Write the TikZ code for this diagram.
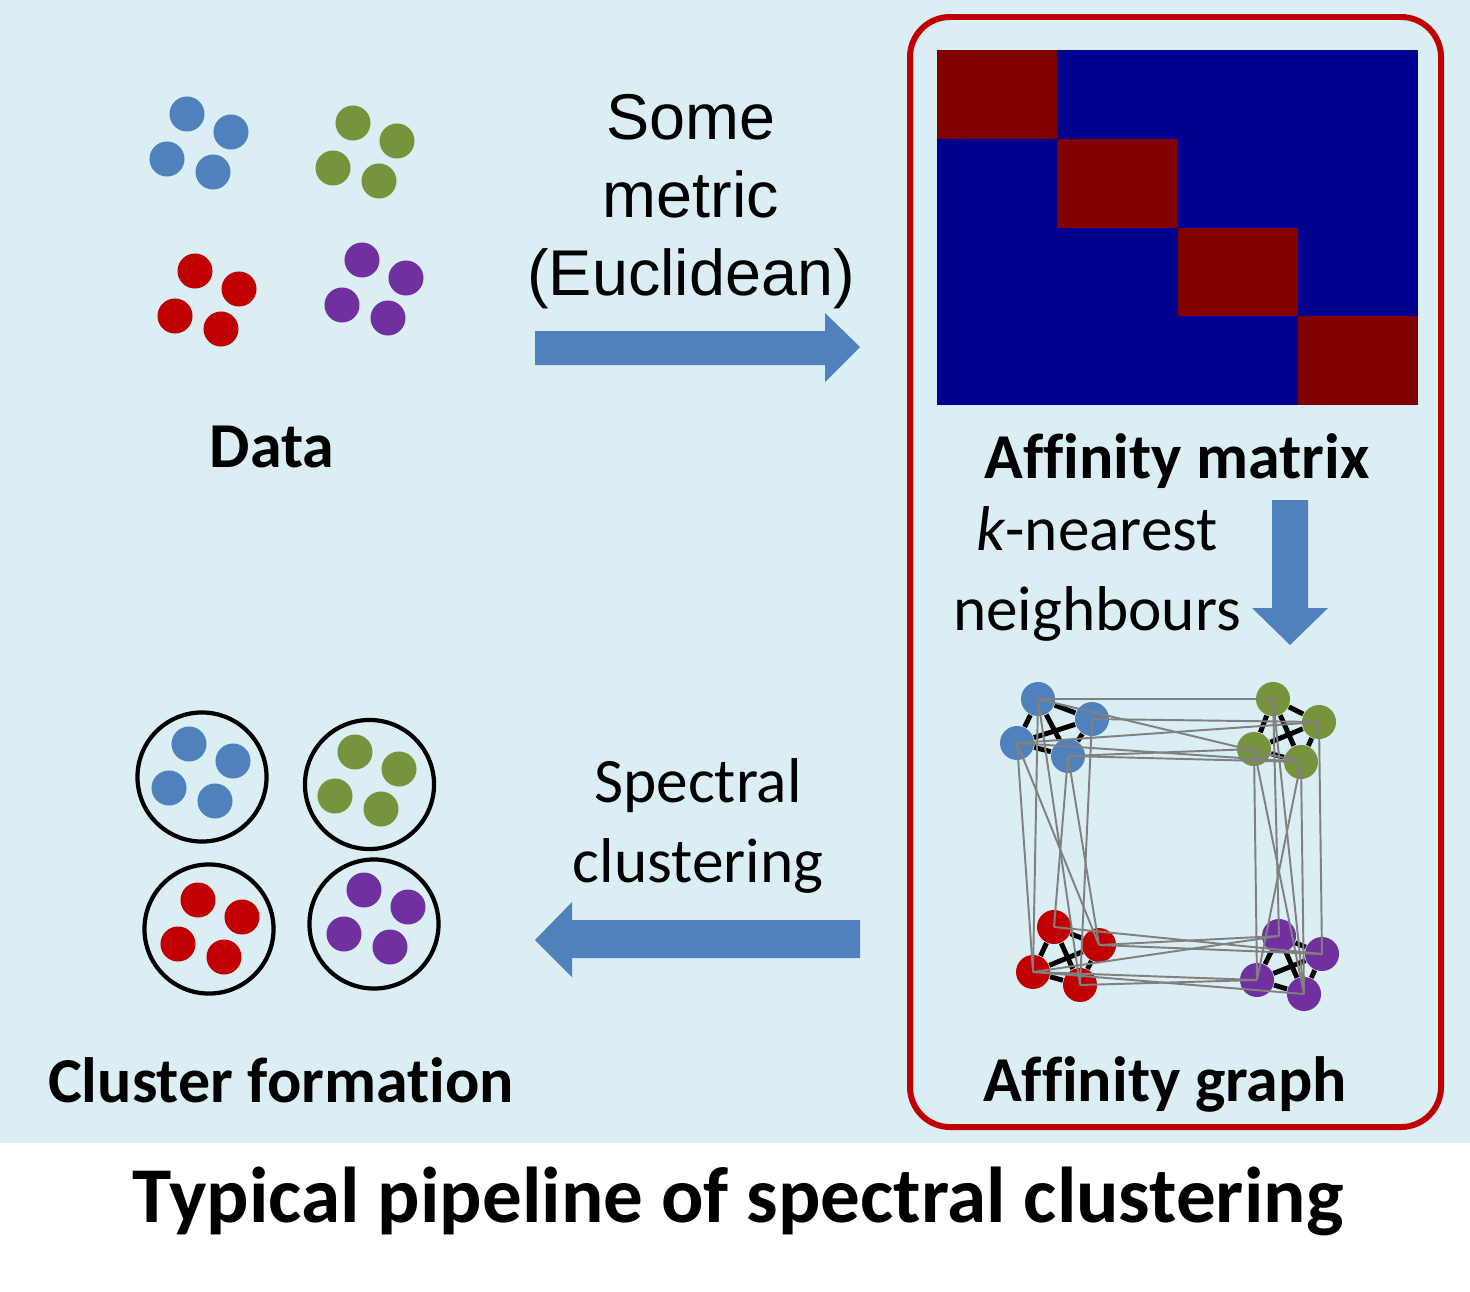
\documentclass[tikz,border=0pt]{standalone}
\usepackage{fontspec}
\setmainfont{Carlito}[Ligatures=NoCommon]
\newfontfamily\arialfont{Liberation Sans}
\usetikzlibrary{positioning}
\usetikzlibrary{backgrounds}
\definecolor{bgblue}{HTML}{DAEEF3}
\definecolor{dotblue}{HTML}{4F81BD}
\definecolor{dotgreen}{HTML}{77933C}
\definecolor{dotred}{HTML}{C00000}
\definecolor{dotpurple}{HTML}{7030A0}
\definecolor{arrowblue}{HTML}{4F81BD}
\definecolor{framered}{HTML}{C00000}
\definecolor{matred}{HTML}{800000}
\definecolor{matblue}{HTML}{000090}
\pgfdeclarelayer{edgelayer}
\pgfsetlayers{background,edgelayer,main}
\tikzset{dot/.style={circle,inner sep=0pt,minimum size=0.35cm},
  gdot/.style={circle,inner sep=0pt,minimum size=0.34cm},
  ring/.style={circle,draw,line width=1.2pt,inner sep=0pt,minimum size=1.29cm},
  strong/.style={line width=1.4pt,black},
  weak/.style={line width=0.55pt,gray},
  blockarrow/.style={fill=arrowblue},
  label/.style={font=\bfseries\fontsize{18.2}{22}\selectfont,anchor=base},
  step text/.style={align=center,font=\fontsize{18}{22.6}\selectfont}}
\begin{document}
\begin{tikzpicture}[x=0.01cm,y=-0.01cm]
\useasboundingbox (0,0) rectangle (1470,1291);
\begin{pgfonlayer}{background}
\fill[bgblue] (0,0) rectangle (1470,1143);
\end{pgfonlayer}
\draw[framered,line width=1.7pt,rounded corners=0.4cm] (910,17) rectangle (1441,1127);

% data
\foreach \c/\cx/\cy [count=\k] in {dotblue/187/114,dotgreen/353/123,dotred/195/271,dotpurple/362/260}
  \foreach \dx/\dy [count=\j] in {0/0,44/18,-20/45,26/58}
    \node (d\k\j) [dot,fill=\c] at (\cx+\dx,\cy+\dy) {};
\node (data) [label] at (272,467) {Data};

% metric arrow
\fill[blockarrow] (535,331) -- (825,331) -- (825,313) -- (860,347) -- (825,382) -- (825,365) -- (535,365) -- cycle;
\node (metric) [align=center,font=\arialfont\fontsize{18.4}{22.2}\selectfont] at (691,202) {Some\\metric\\(Euclidean)};

% affinity matrix
\foreach \i in {0,...,3}
  \foreach \j in {0,...,3}{
    \ifnum\i=\j \def\mc{matred}\else\def\mc{matblue}\fi
    \fill[\mc] (937+120.25*\i,50+88.75*\j) rectangle (937+120.25*\i+120.25,50+88.75*\j+88.75);
  }
\node (amat) [label] at (1177,478) {Affinity matrix};

% knn arrow
\fill[blockarrow] (1272,500) -- (1308,500) -- (1308,608) -- (1328,608) -- (1290,645) -- (1252,608) -- (1272,608) -- cycle;
\node (knn) [step text] at (1097,574) {\textit{k}-nearest\\neighbours};

% affinity graph
\foreach \n/\c/\px/\py in {b1/dotblue/1038/699,b2/dotblue/1092/719,b3/dotblue/1017/743,b4/dotblue/1068/756,
  g1/dotgreen/1273/699,g2/dotgreen/1319/722,g3/dotgreen/1254/749,g4/dotgreen/1301/762,
  r1/dotred/1054/927,r2/dotred/1099/945,r3/dotred/1033/972,r4/dotred/1080/985,
  p1/dotpurple/1279/936,p2/dotpurple/1322/954,p3/dotpurple/1257/980,p4/dotpurple/1304/994}
  \node (\n) [gdot,fill=\c] at (\px,\py) {};
\begin{pgfonlayer}{edgelayer}
\foreach \g in {b,g,r,p}
  \foreach \u/\v in {1/2,1/3,1/4,2/3,2/4,3/4}
    \draw[strong] (\g\u) -- (\g\v);
\end{pgfonlayer}
\foreach \u/\v in {b1/g1,b1/g4,b2/g2,b3/g2,b3/g4,b4/g3,b4/g4,
  b3/r3,b3/r2,b1/r4,b4/r1,b4/r2,b2/r4,b1/r3,
  g3/p3,g1/p1,g4/p3,g2/p2,g4/p4,g3/p4,g1/p4,
  r1/p2,r2/p1,r3/p4,r3/p3,r4/p3,r3/p1,r2/p2}
  \draw[weak] (\u.center) -- (\v.center);
\node (agraph) [label] at (1165,1101) {Affinity graph};

% spectral arrow
\fill[blockarrow] (860,920) -- (572,920) -- (572,902) -- (535,940) -- (572,977) -- (572,958) -- (860,958) -- cycle;
\node (spec) [step text] at (698,826) {Spectral\\clustering};

% cluster formation
\foreach \c/\rx/\ry/\cx/\cy [count=\k] in {dotblue/202/777/189/744,dotgreen/369.5/784.5/355/752,dotred/209/929/198/900,dotpurple/374/924/364/890}{
  \node (f\k) [ring] at (\rx,\ry) {};
  \foreach \dx/\dy [count=\j] in {0/0,44/17,-20/44,26/57}
    \node (f\k\j) [dot,fill=\c] at (\cx+\dx,\cy+\dy) {};
}
\node (cform) [label] at (281,1102) {Cluster formation};

% title
\node (title) [anchor=base,font=\bfseries\fontsize{22.5}{27}\selectfont] at (738,1222) {Typical pipeline of spectral clustering};
\end{tikzpicture}
\end{document}
